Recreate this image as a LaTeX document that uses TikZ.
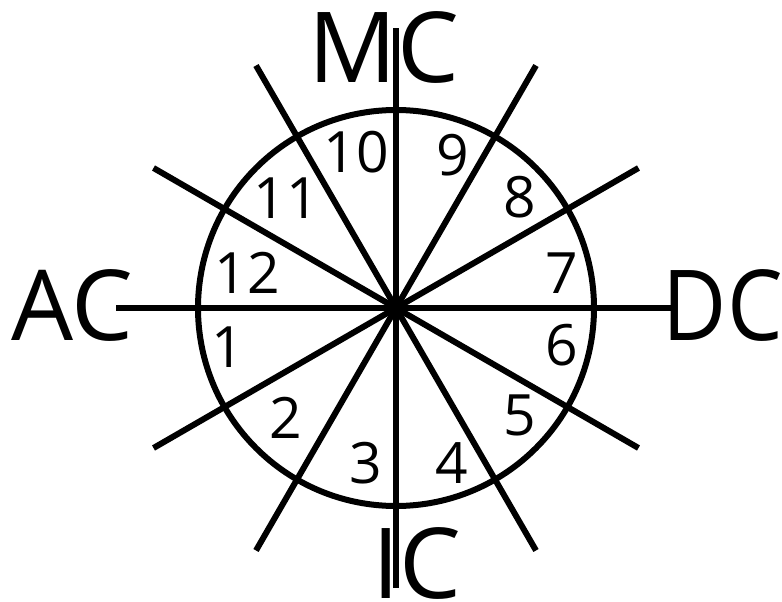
\documentclass[tikz,border=0pt]{standalone}
\usepackage{fontspec}
\setmainfont{Open Sans}
\newfontfamily\narrowsans[FakeStretch=0.9]{Open Sans}
\usetikzlibrary{calc}
\tikzset{
  stroke/.style={line width=6pt, black},
  bigtxt/.style={inner sep=0pt, anchor=base, font=\fontsize{98}{98}\selectfont},
  numtxt/.style={inner sep=0pt, anchor=base, font=\fontsize{57}{57}\selectfont}
}
\begin{document}
\begin{tikzpicture}[x=1pt,y=-1pt]
\useasboundingbox (0,0) rectangle (782,602);
\coordinate (O) at (396,308);
\node[stroke, draw, circle, minimum size=396pt, inner sep=0pt] (ring) at (O) {};
\foreach \a in {0,30,...,330} {
  \coordinate (p\a) at ($(O)+(\a:280)$);
  \draw[stroke] (O) -- (p\a);
}
\fill (O) circle (5pt);
% axis labels
\node[bigtxt] (mc) at (384,83) {MC};
\node[bigtxt] (ic) at (417,598) {IC};
\node[bigtxt] (ac) at (72,340) {AC};
\node[bigtxt, anchor=base east, font=\fontsize{98}{98}\narrowsans] (dc) at (783,340) {DC};
% sector numbers
\node[numtxt] (n10) at (356,172) {10};
\node[numtxt] (n11) at (286,218) {11};
\node[numtxt] (n12) at (247,293) {12};
\node[numtxt] (n9) at (453,175) {9};
\node[numtxt] (n8) at (520,217) {8};
\node[numtxt] (n7) at (562,293) {7};
\node[numtxt] (n1) at (228,367) {1};
\node[numtxt] (n2) at (286,438) {2};
\node[numtxt] (n3) at (366,483) {3};
\node[numtxt] (n4) at (452,483) {4};
\node[numtxt] (n5) at (520,435) {5};
\node[numtxt] (n6) at (562,365) {6};
\end{tikzpicture}
\end{document}
